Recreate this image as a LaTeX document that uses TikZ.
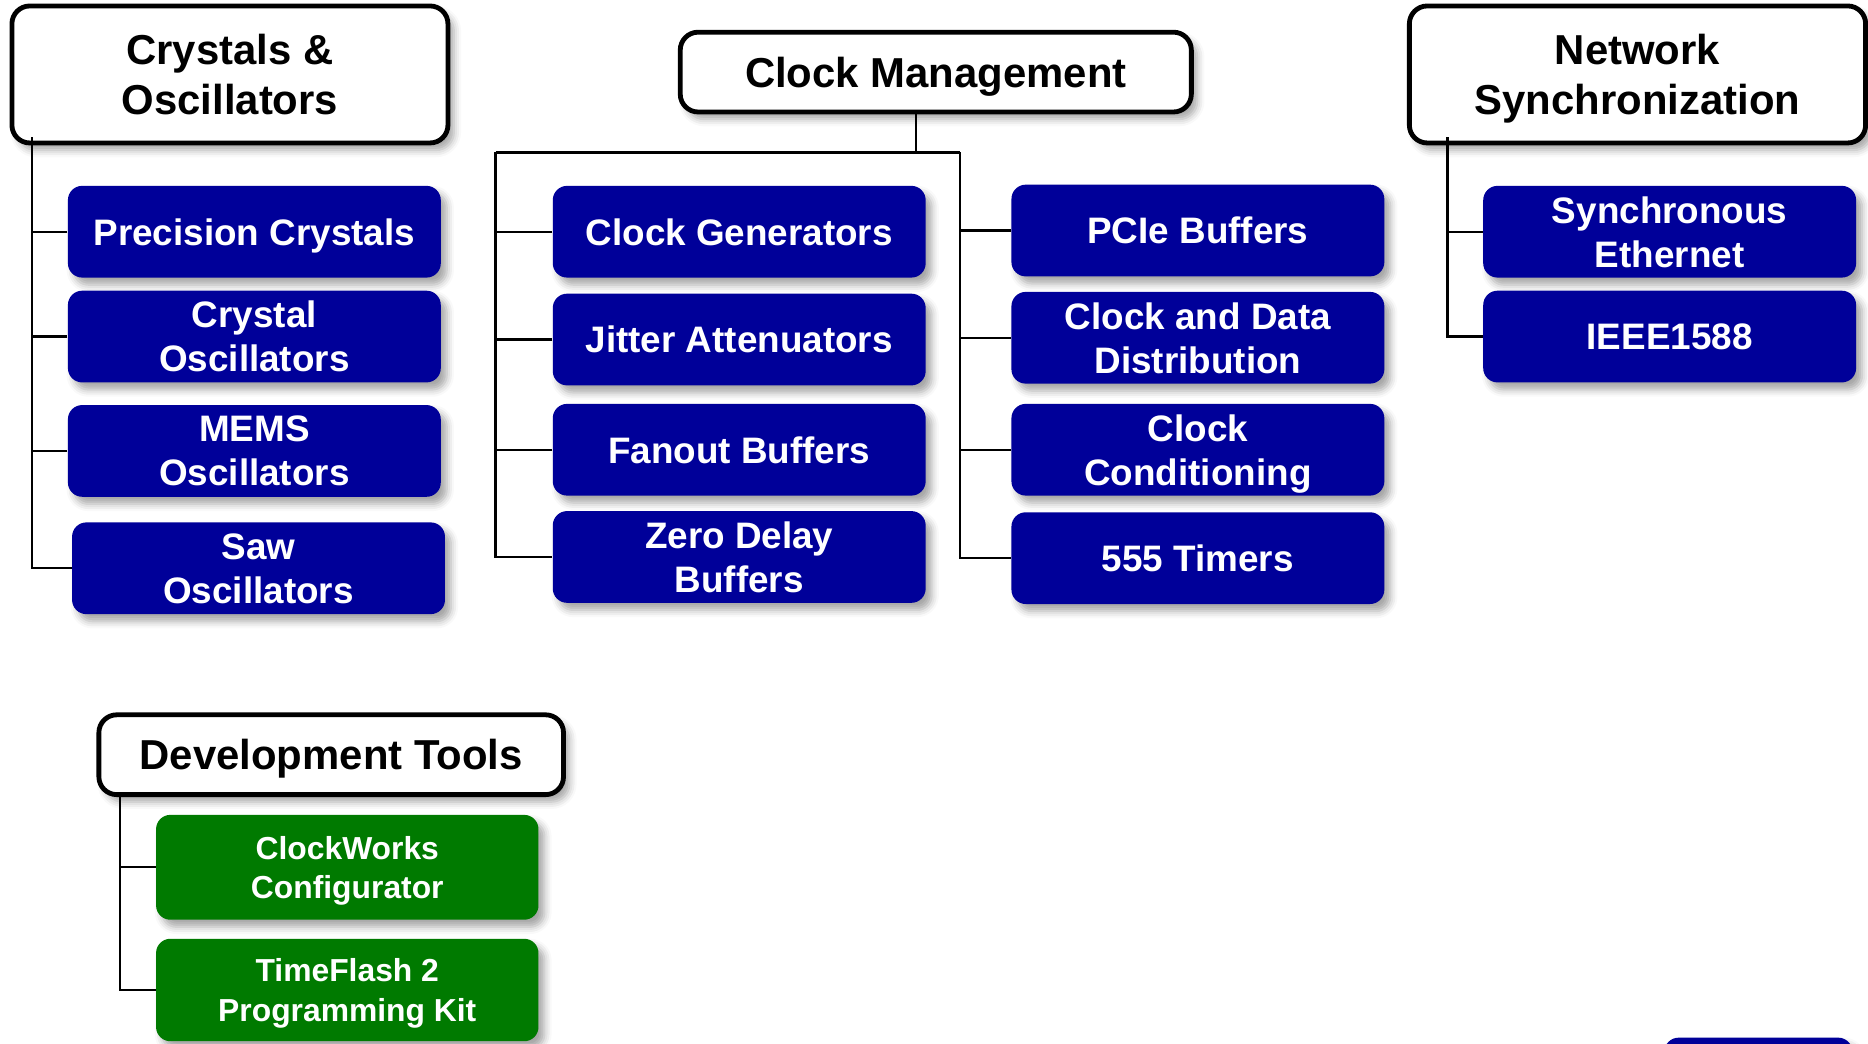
\documentclass[tikz,border=0pt]{standalone}
\usepackage{fontspec}
\setmainfont{Liberation Sans}
\usetikzlibrary{shadows.blur}
\definecolor{catblue}{RGB}{0,0,153}
\definecolor{toolgreen}{RGB}{0,122,0}
\tikzset{
  softshadow/.style={blur shadow={shadow xshift=0.1cm, shadow yshift=-0.12cm, shadow blur radius=0.12cm, shadow opacity=35}},
  head/.style={draw=black, line width=2.3pt, fill=white, rounded corners=0.3cm, inner sep=0pt,
    text depth=0pt, align=center, font=\fontsize{20}{24}\selectfont\bfseries, softshadow},
  prod/.style={fill=catblue, text=white, rounded corners=0.24cm, inner sep=0pt,
    minimum width=6.26cm, minimum height=1.54cm, text depth=0pt, align=center,
    font=\fontsize{17.6}{21}\selectfont\bfseries, softshadow},
  tool/.style={prod, fill=toolgreen, minimum width=6.42cm, font=\fontsize{15.2}{18.8}\selectfont\bfseries},
  conn/.style={draw=black, line width=1.1pt}
}
\begin{document}
\begin{tikzpicture}
  \clip (0,0) rectangle (31.36,-17.52);

  % category headers
  \node[head, minimum width=7.32cm, minimum height=2.3cm] (crys) at (3.86,-1.25) {Crystals \&\\Oscillators};
  \node[head, minimum width=8.58cm, minimum height=1.34cm] (clkm) at (15.71,-1.21) {Clock Management};
  \node[head, minimum width=7.66cm, minimum height=2.3cm] (netw) at (27.49,-1.25) {Network\\Synchronization};
  \node[head, minimum width=7.8cm, minimum height=1.34cm] (devt) at (5.56,-12.67) {Development Tools};

  % crystals and oscillators
  \node[prod] (prec) at (4.27,-3.89) {Precision Crystals};
  \node[prod] (xo) at (4.27,-5.65) {Crystal\\Oscillators};
  \node[prod] (mems) at (4.27,-7.57) {MEMS\\Oscillators};
  \node[prod] (saw) at (4.34,-9.54) {Saw\\Oscillators};

  % clock management
  \node[prod] (cgen) at (12.41,-3.89) {Clock Generators};
  \node[prod] (jatt) at (12.41,-5.70) {Jitter Attenuators};
  \node[prod] (fan) at (12.41,-7.55) {Fanout Buffers};
  \node[prod] (zdb) at (12.41,-9.35) {Zero Delay\\Buffers};
  \node[prod] (pcie) at (20.11,-3.87) {PCIe Buffers};
  \node[prod] (cdd) at (20.11,-5.67) {Clock and Data\\Distribution};
  \node[prod] (ccond) at (20.11,-7.55) {Clock\\Conditioning};
  \node[prod] (timer) at (20.11,-9.37) {555 Timers};

  % network synchronization
  \node[prod] (syne) at (28.03,-3.89) {Synchronous\\Ethernet};
  \node[prod] (ieee) at (28.03,-5.65) {IEEE1588};

  % development tools
  \node[tool, minimum height=1.76cm] (cwc) at (5.83,-14.56) {ClockWorks\\Configurator};
  \node[tool, minimum height=1.72cm] (tfk) at (5.83,-16.62) {TimeFlash 2\\Programming Kit};

  % box cut off at the lower edge
  \node[prod, minimum width=3.16cm] (more) at (29.52,-18.19) {};

  % connectors
  \coordinate (crysT) at (0.54,-2.3);
  \draw[conn] (crysT) |- (saw.west);
  \foreach \n in {prec,xo,mems}
    \draw[conn] (\n.west) -- (\n.west -| crysT);

  \coordinate (busL) at (8.32,-2.56);
  \coordinate (busR) at (16.12,-2.56);
  \coordinate (clkT) at (15.38,-1.88);
  \draw[conn] (clkT) -- (clkT |- busL);
  \draw[conn] (busL) -- (busR);
  \draw[conn] (busL) |- (zdb.west);
  \draw[conn] (busR) |- (timer.west);
  \foreach \n in {cgen,jatt,fan}
    \draw[conn] (\n.west) -- (\n.west -| busL);
  \foreach \n in {pcie,cdd,ccond}
    \draw[conn] (\n.west) -- (\n.west -| busR);

  \coordinate (netT) at (24.3,-2.3);
  \draw[conn] (netT) |- (ieee.west);
  \draw[conn] (syne.west) -- (syne.west -| netT);

  \coordinate (devT) at (2.02,-13.34);
  \draw[conn] (devT) |- (tfk.west);
  \draw[conn] (cwc.west) -- (cwc.west -| devT);
\end{tikzpicture}
\end{document}
